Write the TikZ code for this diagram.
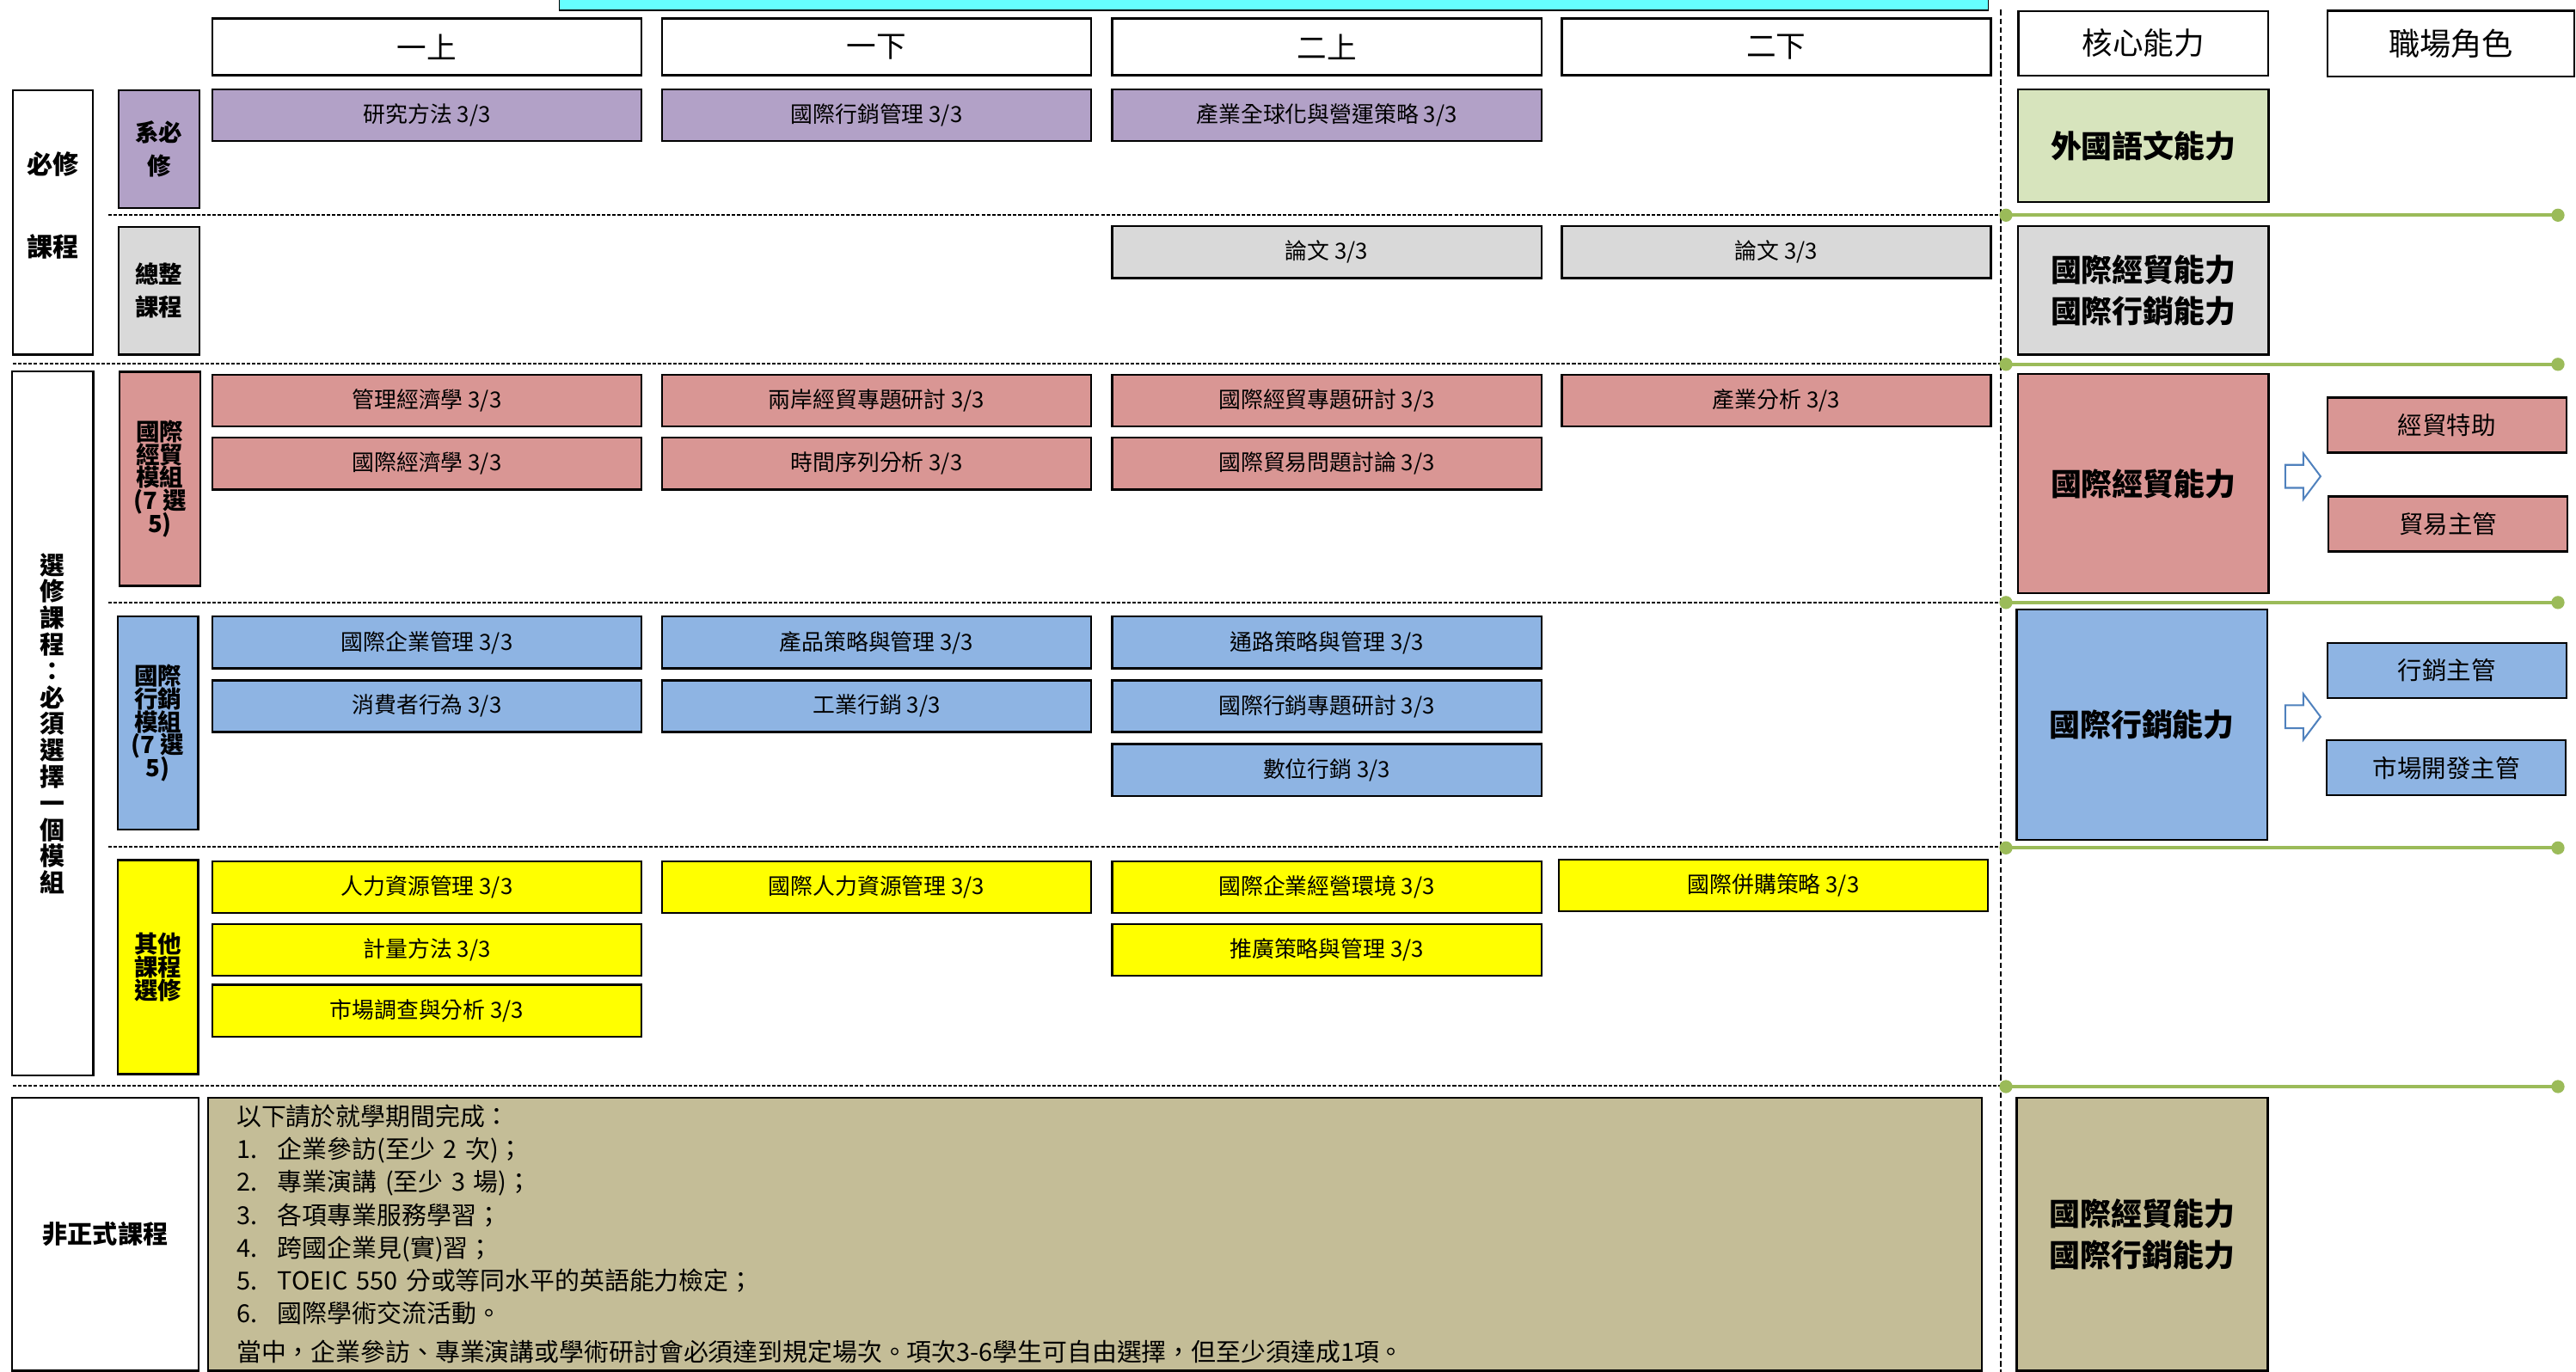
\documentclass[tikz,border=0pt]{standalone}
\usepackage{fontspec}
\setmainfont{Noto Sans CJK TC}
\definecolor{kpurple}{HTML}{B2A1C7}
\definecolor{kgray}{HTML}{D9D9D9}
\definecolor{klime}{HTML}{D7E4BD}
\definecolor{kred}{HTML}{D99694}
\definecolor{kblue}{HTML}{8EB4E3}
\definecolor{kyellow}{HTML}{FFFF00}
\definecolor{ktan}{HTML}{C4BD97}
\definecolor{kcyan}{HTML}{66FFFF}
\definecolor{kgreen}{HTML}{9BBB59}
\definecolor{karrow}{HTML}{4F81BD}
\tikzstyle{box} = [draw, line width=0.7pt, inner sep=0pt, align=center]
\tikzstyle{sep} = [line width=0.5pt, dash pattern=on 1.2pt off 0.6pt]

\begin{document}
\begin{tikzpicture}[x=0.2mm,y=-0.2mm]
\tikzstyle{term} = [box, fill=white, minimum width=52.26mm, minimum height=6.9mm, font=\fontsize{10.3}{12}\selectfont]
\tikzstyle{course} = [box, minimum width=52.26mm, minimum height=6.3mm, font=\fontsize{7.7}{9}\selectfont]
\tikzstyle{side} = [box, minimum width=9.8mm, font={\bfseries\fontsize{8.2}{7.95}\selectfont\lineskiplimit=-4pt}]
\tikzstyle{ability} = [box, minimum width=30.5mm, font=\bfseries\fontsize{10.7}{14.2}\selectfont]
\tikzstyle{role} = [box, minimum width=29.1mm, minimum height=6.7mm, font=\fontsize{8.5}{10}\selectfont]
\tikzstyle{band} = [draw=kgreen, line width=1.1pt]
\tikzstyle{hollow} = [draw=karrow, fill=white, line width=0.6pt, line join=miter]
\useasboundingbox (0,0) rectangle (1568,835);
\clip (0,0) rectangle (1568,835);
\draw[line width=0.5pt, fill=kcyan] (340.5,-20) rectangle (1210.3,6.1);
\node[term] at (259.85,28.5) (term1) {一上};
\node[term] at (533.55,28.5) (term2) {一下};
\node[term] at (807.6,28.5) (term3) {二上};
\node[term] at (1081.25,28.5) (term4) {二下};
\node[box, fill=white, minimum width=30.45mm, minimum height=7.9mm, font=\fontsize{10.6}{12}\selectfont] at (1304.65,26.4) (core) {核心能力};
\node[box, fill=white, minimum width=30.06mm, minimum height=8mm, font=\fontsize{10.8}{12}\selectfont] at (1491.85,26.6) (career) {職場角色};
\draw[line width=0.5pt, dash pattern=on 2pt off 1pt] (1218,6) -- (1218,840);
\node[box, fill=white, minimum width=9.7mm, minimum height=32.2mm] at (32.2,135.45) (required) {};
\node[font=\bfseries\fontsize{9}{28.5}\selectfont, align=center] at (32.2,125) (requiredtext) {必修\\課程};
\node[side, fill=kpurple, minimum height=14.3mm] at (96.8,90.75) (deptreq) {系必\\[3.4pt]修};
\node[side, fill=kgray, minimum height=15.54mm] at (96.8,177.05) (capstone) {總整\\[3.4pt]課程};
\node[course, fill=kpurple] at (259.85,70.1) (p1) {研究方法 3/3};
\node[course, fill=kpurple] at (533.55,70.1) (p2) {國際行銷管理 3/3};
\node[course, fill=kpurple] at (807.6,70.1) (p3) {產業全球化與營運策略 3/3};
\node[course, fill=kgray] at (807.6,153.5) (g1) {論文 3/3};
\node[course, fill=kgray] at (1081.25,153.5) (g2) {論文 3/3};
\node[ability, fill=klime, minimum height=13.7mm] at (1304.65,88.8) (lang) {外國語文能力};
\node[ability, fill=kgray, minimum height=15.6mm] at (1304.65,176.8) (both1) {國際經貿能力\\國際行銷能力};
\node[box, fill=white, minimum width=9.9mm, minimum height=85.7mm, font={\bfseries\fontsize{8.6}{9.17}\selectfont\lineskiplimit=-4pt}] at (32,440.5) (elective) {選\\修\\課\\程\\：\\必\\須\\選\\擇\\一\\個\\模\\組};
\node[side, fill=kred, minimum height=26.06mm] at (97.3,291.45) (trademod) {國際\\經貿\\模組\\(7 選\\5)};
\node[side, fill=kblue, minimum height=25.98mm] at (96.1,440.25) (mktmod) {國際\\行銷\\模組\\(7 選\\5)};
\node[side, fill=kyellow, minimum height=26.04mm] at (96.1,588.8) (othermod) {其他\\課程\\選修};
\node[course, fill=kred] at (259.85,243.85) (r1) {管理經濟學 3/3};
\node[course, fill=kred] at (533.55,243.85) (r2) {兩岸經貿專題研討 3/3};
\node[course, fill=kred] at (807.6,243.85) (r3) {國際經貿專題研討 3/3};
\node[course, fill=kred] at (1081.25,243.85) (r4) {產業分析 3/3};
\node[course, fill=kred] at (259.85,282.25) (r5) {國際經濟學 3/3};
\node[course, fill=kred] at (533.55,282.25) (r6) {時間序列分析 3/3};
\node[course, fill=kred] at (807.6,282.25) (r7) {國際貿易問題討論 3/3};
\node[course, fill=kblue] at (259.85,391.15) (b1) {國際企業管理 3/3};
\node[course, fill=kblue] at (533.55,391.15) (b2) {產品策略與管理 3/3};
\node[course, fill=kblue] at (807.6,391.15) (b3) {通路策略與管理 3/3};
\node[course, fill=kblue] at (259.85,429.9) (b4) {消費者行為 3/3};
\node[course, fill=kblue] at (533.55,429.9) (b5) {工業行銷 3/3};
\node[course, fill=kblue] at (807.6,429.9) (b6) {國際行銷專題研討 3/3};
\node[course, fill=kblue] at (807.6,468.75) (b7) {數位行銷 3/3};
\node[course, fill=kyellow] at (259.85,540) (y1) {人力資源管理 3/3};
\node[course, fill=kyellow] at (533.55,540) (y2) {國際人力資源管理 3/3};
\node[course, fill=kyellow] at (807.6,540) (y3) {國際企業經營環境 3/3};
\node[course, fill=kyellow] at (1079.45,539.1) (y4) {國際併購策略 3/3};
\node[course, fill=kyellow] at (259.85,578.3) (y5) {計量方法 3/3};
\node[course, fill=kyellow] at (807.6,578.3) (y6) {推廣策略與管理 3/3};
\node[course, fill=kyellow] at (259.85,615.3) (y7) {市場調查與分析 3/3};
\node[ability, fill=kred, minimum height=26.74mm] at (1304.65,294.35) (tradeskill) {國際經貿能力};
\node[ability, fill=kblue, minimum height=28mm] at (1303.7,441.2) (mktskill) {國際行銷能力};
\node[role, fill=kred] at (1489.35,258.75) (job1) {經貿特助};
\node[role, fill=kred] at (1490.05,319.05) (job2) {貿易主管};
\node[role, fill=kblue] at (1489.35,408.05) (job3) {行銷主管};
\node[role, fill=kblue] at (1489.05,467.45) (job4) {市場開發主管};
\foreach \y in {290,436.4}{
    \draw[hollow] (1391,\y-7) -- (1402,\y-7) -- (1402,\y-14) -- (1412.5,\y) -- (1402,\y+14) -- (1402,\y+7) -- (1391,\y+7) -- cycle;
}
\draw[sep] (66,131) -- (1218,131);
\draw[sep] (8,221.5) -- (1218,221.5);
\draw[sep] (66,367) -- (1218,367);
\draw[sep] (66,515.5) -- (1218,515.5);
\draw[sep] (8,661) -- (1218,661);
\foreach \y in {131,221.8,366.8,516.2,661.5}{
    \draw[band] (1221,\y) -- (1557,\y);
    \fill[kgreen] (1221,\y) circle (0.8mm) (1557,\y) circle (0.8mm);
}
\node[box, fill=white, minimum width=22.76mm, minimum height=33.26mm, font=\bfseries\fontsize{8.7}{10}\selectfont] at (64.1,751.35) (informal) {非正式課程};
\node[box, fill=ktan, minimum width=215.98mm, minimum height=33.26mm, text width=209mm, align=left, font=\fontsize{8.6}{11.4}\selectfont] at (666.55,751.35) (activities) {以下請於就學期間完成：\\
\makebox[5mm][l]{1.}企業參訪(至少 2 次)；\\
\makebox[5mm][l]{2.}專業演講 (至少 3 場)；\\
\makebox[5mm][l]{3.}各項專業服務學習；\\
\makebox[5mm][l]{4.}跨國企業見(實)習；\\
\makebox[5mm][l]{5.}TOEIC 550 分或等同水平的英語能力檢定；\\
\makebox[5mm][l]{6.}國際學術交流活動。\\[0.7mm]
當中，企業參訪、專業演講或學術研討會必須達到規定場次。項次3-6學生可自由選擇，但至少須達成1項。};
\node[ability, fill=ktan, minimum width=30.58mm, minimum height=33.26mm] at (1303.95,751.35) (both2) {國際經貿能力\\國際行銷能力};
\end{tikzpicture}
\end{document}
